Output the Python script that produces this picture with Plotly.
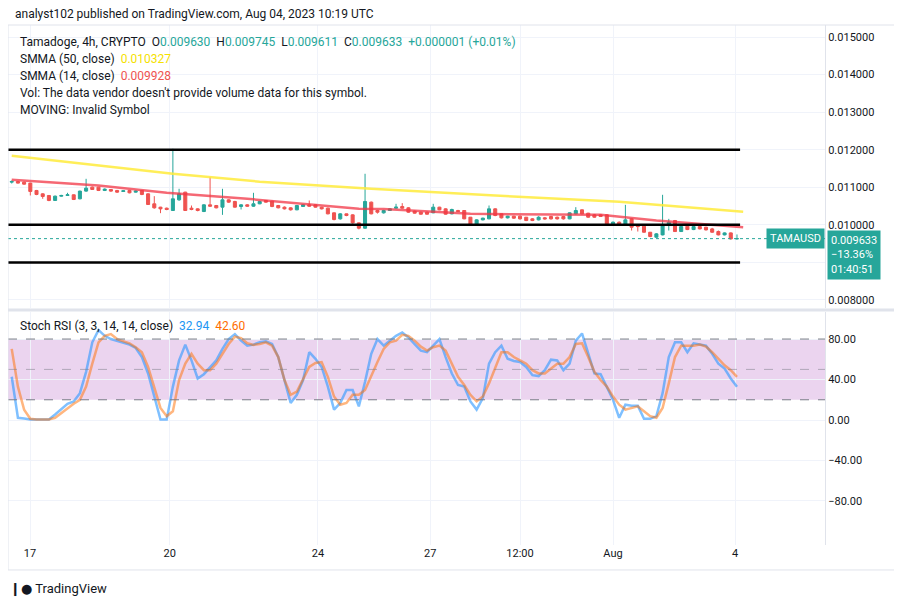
import plotly.graph_objects as go

# 4h candles, prices in millionths of a dollar
opens = [11137, 11155, 11137, 11111, 10915, 10826, 10782, 10649, 10764, 10782, 10800, 10693, 10898, 11004, 11004, 10915, 10942, 10915, 10889, 10915,
         10871, 10915, 10826, 10560, 10471, 10444, 10382, 10666, 10871, 10444, 10426, 10355, 10533, 10515, 10471, 10666, 10622, 10489, 10533, 10497,
         10560, 10649, 10631, 10515, 10471, 10453, 10400, 10489, 10533, 10533, 10471, 10444, 10320, 10160, 10293, 10266, 10053, 9911, 10604, 10382,
         10320, 10382, 10444, 10489, 10453, 10364, 10337, 10337, 10320, 10471, 10426, 10293, 10382, 10382, 10204, 10009, 10133, 10160, 10426, 10293,
         10187, 10231, 10231, 10204, 10160, 10133, 10187, 10222, 10204, 10222, 10160, 10293, 10400, 10311, 10266, 10266, 10266, 10027, 10071, 10009,
         10160, 9964, 9964, 9804, 9671, 9733, 10000, 10115, 9822, 9964, 9875, 9955, 9937, 9893, 9822, 9733, 9786, 9630]
closes = [11155, 11111, 11084, 10889, 10809, 10755, 10649, 10764, 10782, 10800, 10675, 10898, 10977, 10942, 10915, 10951, 10898, 10871, 10906, 10853,
          10898, 10809, 10542, 10453, 10426, 10409, 10693, 10826, 10382, 10409, 10382, 10533, 10497, 10453, 10666, 10604, 10471, 10533, 10497, 10560,
          10622, 10604, 10489, 10453, 10426, 10400, 10515, 10533, 10497, 10471, 10426, 10293, 10142, 10293, 10249, 10053, 9911, 10622, 10293, 10337,
          10382, 10426, 10471, 10444, 10337, 10311, 10284, 10284, 10471, 10400, 10284, 10409, 10355, 10160, 10009, 10133, 10178, 10426, 10249, 10187,
          10231, 10178, 10160, 10115, 10115, 10204, 10160, 10160, 10160, 10160, 10320, 10382, 10293, 10204, 10204, 10222, 10027, 10071, 10009, 10133,
          9937, 9955, 9804, 9689, 9760, 10000, 10071, 9822, 9955, 9875, 9955, 9893, 9866, 9804, 9733, 9786, 9626, 9633]
highs = [11180, 11170, 11150, 11120, 10930, 10840, 10790, 10780, 10800, 10853, 10810, 10910, 11226, 11020, 11010, 10970, 10950, 10930, 10920, 10920,
         10910, 10920, 10840, 10764, 10480, 10460, 12026, 10960, 10880, 10515, 10440, 10550, 11271, 10530, 10960, 10680, 10640, 10550, 10550, 10853,
         10640, 10660, 10640, 10530, 10490, 10470, 10530, 10550, 10649, 10540, 10480, 10460, 10330, 10310, 10300, 10280, 10060, 11360, 10620, 10400,
         10400, 10440, 10560, 10578, 10470, 10380, 10350, 10350, 10560, 10480, 10440, 10430, 10400, 10390, 10210, 10150, 10190, 10515, 10440, 10300,
         10240, 10240, 10250, 10210, 10180, 10230, 10210, 10240, 10220, 10240, 10330, 10471, 10410, 10320, 10290, 10280, 10280, 10090, 10090, 10533,
         10170, 10000, 9980, 9810, 9780, 10800, 10160, 10130, 9970, 10000, 9970, 9970, 9950, 9920, 9850, 9800, 9800, 9745]
lows = [11100, 11100, 11070, 10782, 10790, 10693, 10630, 10640, 10750, 10770, 10660, 10680, 10880, 10930, 10900, 10900, 10880, 10850, 10880, 10840,
        10860, 10790, 10530, 10430, 10311, 10390, 10370, 10640, 10370, 10390, 10360, 10340, 10480, 10440, 10266, 10590, 10460, 10409, 10480, 10480,
        10550, 10590, 10470, 10440, 10410, 10380, 10390, 10480, 10480, 10460, 10410, 10280, 10120, 10140, 10230, 10030, 9880, 9900, 10280, 10300,
        10300, 10370, 10430, 10430, 10320, 10300, 10270, 10270, 10310, 10390, 10270, 10280, 10340, 10150, 9990, 9990, 10120, 10150, 10230, 10170,
        10170, 10160, 10140, 10100, 10100, 10120, 10140, 10140, 10140, 10140, 10150, 10280, 10280, 10190, 10190, 10210, 10010, 10010, 9990, 9990,
        9849, 9822, 9790, 9670, 9660, 9720, 9849, 9810, 9810, 9860, 9860, 9880, 9850, 9790, 9720, 9720, 9610, 9611]

# moving averages, read at a few candles
smma50_x = [0, 26, 40, 58, 78, 98, 118]
smma50_y = [11840, 11360, 11150, 10960, 10780, 10613, 10347]
smma14_x = [0, 14, 25, 38, 56, 60, 74, 95, 104, 118]
smma14_y = [11200, 11050, 10853, 10693, 10426, 10420, 10293, 10266, 10115, 9937]

stoch_k = [42.7, 2.2, 1.5, 0.5, 0.5, 0.5, 0.5, 5.4, 10.3, 16.1, 18.4, 26.5, 47.6, 76.8, 88.8, 83.2, 80, 78.4, 76.8, 74.5,
           71.2, 62.2, 46.0, 23.2, 0.5, 0.5, 33.0, 58.9, 74.5, 58.9, 41.1, 45.3, 52.4, 58.9, 70.3, 80, 84.9, 78.4, 73.5, 74.5,
           76.8, 77.7, 75.1, 62.2, 39.5, 16.8, 24.9, 39.5, 67.0, 60.5, 52.4, 33.0, 10.3, 16.8, 29.7, 29.7, 13.5, 37.8, 65.4, 80,
           73.5, 78.4, 83.2, 86.5, 81.6, 75.1, 68.6, 67.0, 73.5, 80, 62.2, 46.0, 34.6, 33.0, 18.4, 10.3, 21.6, 55.7, 67.0, 73.5,
           60.5, 58.3, 57.3, 52.4, 44.3, 43.4, 49.2, 59.6, 58.9, 49.2, 55.7, 78.4, 85.5, 65.4, 46.0, 45.3, 33.0, 20.0, 2.2, 15.1,
           14.2, 14.2, 1.2, 1.2, 3.8, 26.5, 62.2, 76.8, 76.8, 67.0, 75.8, 74.5, 73.5, 65.4, 55.7, 50.8, 41.1, 32.94]
stoch_d = [70.3, 33.0, 10.3, 1.2, 0.5, 0.5, 0.5, 2.2, 7.0, 11.9, 16.1, 20.0, 33.0, 55.7, 76.8, 83.2, 84.9, 80, 77.7, 75.8,
           71.9, 67.0, 52.4, 33.0, 11.9, 3.8, 8.7, 39.5, 55.7, 65.4, 55.7, 49.2, 49.2, 55.7, 65.4, 75.1, 82.3, 81.0, 75.8, 74.2,
           75.1, 76.8, 73.5, 62.2, 39.5, 24.9, 28.1, 41.1, 52.4, 56.3, 57.3, 42.7, 23.2, 15.1, 16.8, 24.9, 24.9, 29.7, 44.3, 57.3,
           70.3, 76.8, 78.4, 84.2, 83.2, 78.4, 72.5, 68.6, 71.9, 73.5, 68.6, 55.7, 42.7, 34.6, 24.9, 18.4, 23.2, 36.2, 52.4, 67.0,
           67.0, 62.2, 58.9, 55.7, 49.2, 46.0, 46.0, 50.8, 55.7, 55.7, 62.2, 75.1, 75.8, 62.2, 47.6, 39.5, 33.0, 23.2, 15.1, 10.3,
           11.9, 13.5, 8.7, 3.8, 2.2, 11.9, 36.2, 62.2, 73.5, 73.5, 73.5, 74.5, 72.5, 67.0, 60.5, 54.1, 49.2, 42.60]

tick_pos = [2.95, 25.5, 49.4, 67.5, 82, 97, 116.7]
tick_text = ['17', '20', '24', '27', '12:00', 'Aug', '4']
levels = [0.012, 0.010, 0.009]
last_price = 0.009633

idx = list(range(len(opens)))
sc = 1e-6
TEAL = '#26a69a'
RED = '#ef5350'
GRID = '#f0f3fa'
FONT = 'Roboto, DejaVu Sans, sans-serif'

fig = go.Figure()

fig.add_trace(go.Scatter(x=smma50_x, y=[v * sc for v in smma50_y], mode='lines',
                         line=dict(color='rgba(255,235,59,0.85)', width=2.5), xaxis='x', yaxis='y'))
fig.add_trace(go.Scatter(x=smma14_x, y=[v * sc for v in smma14_y], mode='lines',
                         line=dict(color='rgba(242,54,69,0.75)', width=2.5), xaxis='x', yaxis='y'))
fig.add_trace(go.Candlestick(x=idx, open=[v * sc for v in opens], high=[v * sc for v in highs],
                             low=[v * sc for v in lows], close=[v * sc for v in closes],
                             increasing=dict(line=dict(color=TEAL, width=1), fillcolor=TEAL),
                             decreasing=dict(line=dict(color=RED, width=1), fillcolor=RED),
                             whiskerwidth=0, xaxis='x', yaxis='y'))

fig.add_trace(go.Scatter(x=idx, y=stoch_k, mode='lines', line=dict(color='rgba(41,150,255,0.6)', width=2.5),
                         xaxis='x2', yaxis='y2'))
fig.add_trace(go.Scatter(x=idx, y=stoch_d, mode='lines', line=dict(color='rgba(255,109,0,0.5)', width=2.5),
                         xaxis='x2', yaxis='y2'))

xr = [-0.6, 131.2]
axis_common = dict(range=xr, showgrid=True, gridcolor=GRID, tickvals=tick_pos, zeroline=False,
                   showline=False, fixedrange=True)
# the page body adds 8px around the figure, so the figure is 8px smaller
fig.update_layout(
    width=894, height=599, showlegend=False, plot_bgcolor='white', paper_bgcolor='white',
    margin=dict(l=0, r=77, t=17, b=62, autoexpand=False), font=dict(family=FONT, size=11, color='#131722'),
    xaxis=dict(**axis_common, domain=[0, 1], anchor='y', showticklabels=False, rangeslider=dict(visible=False)),
    xaxis2=dict(**axis_common, domain=[0, 1], anchor='y2', ticktext=tick_text, ticks='',
                tickfont=dict(size=11, color='#131722')),
    yaxis=dict(domain=[0.456, 1], side='right', range=[0.00779, 0.01532], tickformat='.6f',
               tickvals=[0.008, 0.009, 0.010, 0.011, 0.012, 0.013, 0.014, 0.015],
               ticktext=['0.008000', '', '0.010000', '0.011000', '0.012000', '0.013000', '0.014000', '0.015000'],
               gridcolor=GRID, zeroline=False, showline=True, linecolor='#e0e3eb', ticks='', fixedrange=True),
    yaxis2=dict(domain=[0, 0.448], side='right', range=[-123.5, 106.7], tickvals=[-80, -40, 0, 40, 80],
                ticktext=['\u221280.00', '\u221240.00', '0.00', '40.00', '80.00'],
                gridcolor=GRID, zeroline=False, showline=True, linecolor='#e0e3eb', ticks='', fixedrange=True),
)

shapes = []
# stoch band and levels
shapes.append(dict(type='rect', xref='x2', yref='y2', x0=xr[0], x1=xr[1], y0=20, y1=80,
                   fillcolor='rgba(156,39,176,0.2)', line=dict(width=0), layer='below'))
for lv in [80, 50, 20]:
    shapes.append(dict(type='line', xref='x2', yref='y2', x0=xr[0], x1=xr[1], y0=lv, y1=lv,
                       line=dict(color='#787b86' if lv != 50 else 'rgba(120,123,134,0.5)', width=1, dash='dash')))
# horizontal support/resistance
for lv in levels:
    shapes.append(dict(type='line', xref='x', yref='y', x0=-0.6, x1=117.5, y0=lv, y1=lv,
                       line=dict(color='black', width=2.5)))
shapes.append(dict(type='line', xref='x', yref='y', x0=xr[0], x1=xr[1], y0=last_price, y1=last_price,
                   line=dict(color=TEAL, width=1, dash='dot')))
# panel separator and frame
shapes.append(dict(type='line', xref='paper', yref='paper', x0=0, x1=1.085, y0=0.452, y1=0.452,
                   line=dict(color='#e0e3eb', width=3)))
shapes.append(dict(type='rect', xref='paper', yref='paper', x0=0, x1=1.0945, y0=-0.048, y1=1,
                   line=dict(color='#e0e3eb', width=1)))
fig.update_layout(shapes=shapes)

ann = []
ann.append(dict(xref='paper', yref='paper', x=0.006, y=1.0, yshift=11, xanchor='left', yanchor='middle', showarrow=False,
                text='analyst102 published on TradingView.com, Aug 04, 2023 10:19 UTC', font=dict(size=12, color='#131722')))
ann.append(dict(xref='paper', yref='paper', x=0.012, y=0.967, xanchor='left', yanchor='middle', showarrow=False,
                text='Tamadoge, 4h, CRYPTO  O<span style="color:#26a69a">0.009630</span>  H<span style="color:#26a69a">0.009745</span>'
                     '  L<span style="color:#26a69a">0.009611</span>  C<span style="color:#26a69a">0.009633</span>'
                     '  <span style="color:#26a69a">+0.000001 (+0.01%)</span>', font=dict(size=12)))
ann.append(dict(xref='paper', yref='paper', x=0.012, y=0.934, xanchor='left', yanchor='middle', showarrow=False,
                text='SMMA (50, close)  <span style="color:#f5e100">0.010327</span>', font=dict(size=12)))
ann.append(dict(xref='paper', yref='paper', x=0.012, y=0.902, xanchor='left', yanchor='middle', showarrow=False,
                text='SMMA (14, close)  <span style="color:#ef5350">0.009928</span>', font=dict(size=12)))
ann.append(dict(xref='paper', yref='paper', x=0.012, y=0.869, xanchor='left', yanchor='middle', showarrow=False,
                text="Vol: The data vendor doesn't provide volume data for this symbol.", font=dict(size=12)))
ann.append(dict(xref='paper', yref='paper', x=0.012, y=0.837, xanchor='left', yanchor='middle', showarrow=False,
                text='MOVING: Invalid Symbol', font=dict(size=12)))
ann.append(dict(xref='paper', yref='paper', x=0.012, y=0.421, xanchor='left', yanchor='middle', showarrow=False,
                text='Stoch RSI (3, 3, 14, 14, close)  <span style="color:#2196f3">32.94</span>  '
                     '<span style="color:#ff6d00">42.60</span>', font=dict(size=12)))
ann.append(dict(xref='paper', x=0.9995, xanchor='right', yref='y', y=last_price, yanchor='middle', showarrow=False,
                text='TAMAUSD', bgcolor=TEAL, font=dict(color='white', size=11), borderpad=3))
ann.append(dict(xref='paper', x=1.003, xanchor='left', yref='y', y=last_price, yanchor='top', yshift=9, showarrow=False,
                text='0.009633<br>\u221213.36%<br>01:40:51', bgcolor=TEAL, align='left',
                font=dict(color='white', size=11), borderpad=3))
ann.append(dict(xref='paper', yref='paper', x=0.0, y=-0.085, xanchor='left', yanchor='middle', showarrow=False,
                text='<b>\u2759\u25cf</b> TradingView', font=dict(size=13, color='#131722')))
fig.update_layout(annotations=ann)

fig.write_html('out.html')
